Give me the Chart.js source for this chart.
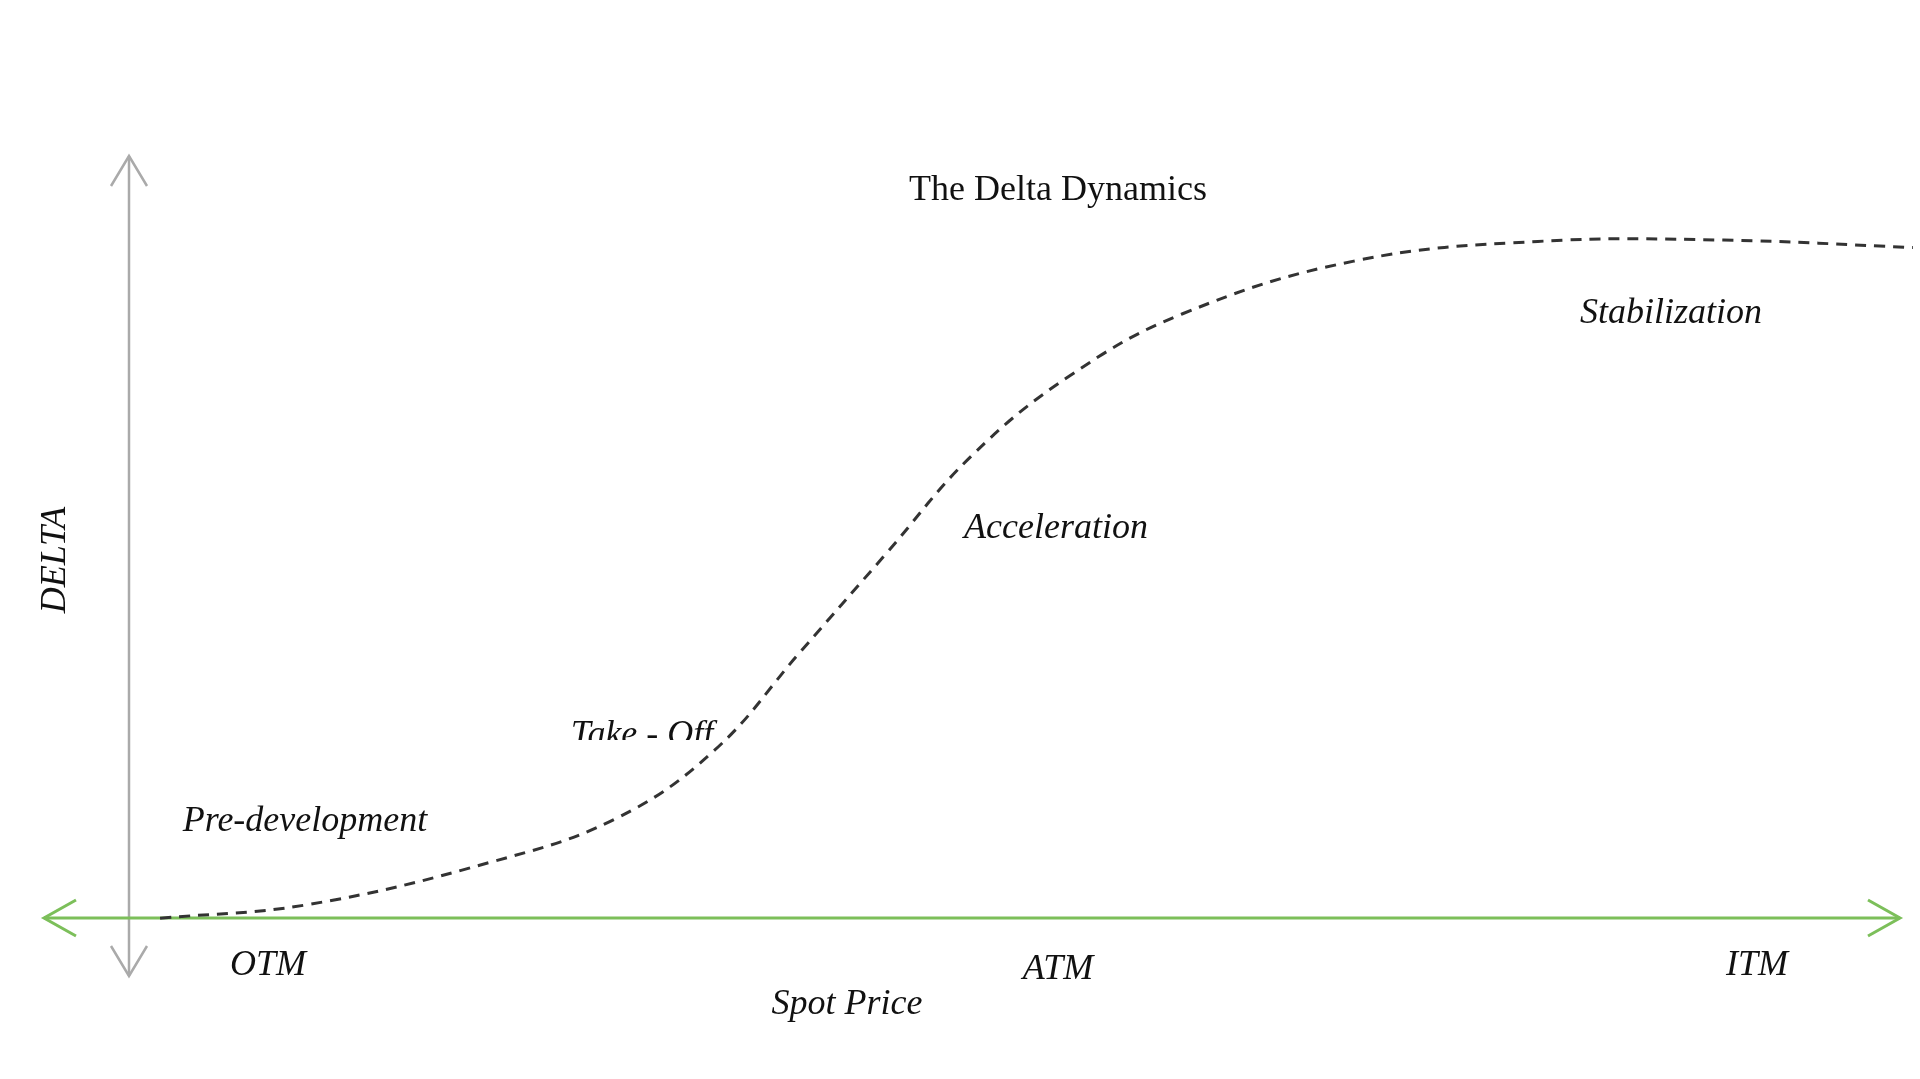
<!DOCTYPE html>
<html><head><meta charset="utf-8">
<script src="https://cdn.jsdelivr.net/npm/chart.js@4/dist/chart.umd.min.js"></script>
<style>html,body{margin:0;padding:0;background:#fff;overflow:hidden}#c{display:block}</style>
</head><body>
<div style="width:1920px;height:1079px"><canvas id="c"></canvas></div>
<script>
const spot = [0, 8.4, 18.9, 26.0, 31.6, 36.5, 41.4, 46.3, 51.9, 58.3, 68.1, 78.6, 89.2, 100];
const delta = [0, 0.02, 0.083, 0.147, 0.247, 0.392, 0.537, 0.682, 0.80, 0.891, 0.969, 0.998, 1.0, 0.989];
const title = "The Delta Dynamics";
const phases = ["Pre-development", "Take - Off", "Acceleration", "Stabilization"];
const moneyness = ["OTM", "ATM", "ITM"];

const deco = {
  id: 'deco',
  beforeDatasetsDraw(chart) {
    const c = chart.ctx;
    c.save();
    c.strokeStyle = '#aaa'; c.lineWidth = 2.5;
    c.beginPath(); c.moveTo(129, 156); c.lineTo(129, 976); c.stroke();
    c.beginPath(); c.moveTo(111, 186); c.lineTo(129, 156); c.lineTo(147, 186); c.stroke();
    c.beginPath(); c.moveTo(111, 946); c.lineTo(129, 976); c.lineTo(147, 946); c.stroke();
    c.strokeStyle = '#7cbf5a'; c.lineWidth = 3;
    c.beginPath(); c.moveTo(44, 918); c.lineTo(1900, 918); c.stroke();
    c.beginPath(); c.moveTo(76, 900); c.lineTo(44, 918); c.lineTo(76, 936); c.stroke();
    c.beginPath(); c.moveTo(1868, 900); c.lineTo(1900, 918); c.lineTo(1868, 936); c.stroke();
    c.restore();
  },
  afterDatasetsDraw(chart) {
    const c = chart.ctx;
    c.save();
    c.fillStyle = '#111'; c.textAlign = 'center'; c.textBaseline = 'middle';
    c.font = '36px "Liberation Serif"';
    c.fillText(title, 1058, 191);
    c.font = 'italic 36px "Liberation Serif"';
    c.fillText(phases[0], 305, 822);
    c.fillText(phases[2], 1056, 529);
    c.fillText(phases[3], 1671, 314);
    c.save(); c.beginPath(); c.rect(500, 700, 300, 40); c.clip();
    c.fillText(phases[1], 642, 736); c.restore();
    c.fillText(moneyness[0], 268, 966);
    c.fillText(moneyness[1], 1058, 970);
    c.fillText(moneyness[2], 1757, 966);
    c.fillText("Spot Price", 847, 1005);
    c.translate(56, 560); c.rotate(-Math.PI / 2);
    c.fillText("DELTA", 0, 0);
    c.restore();
  }
};

new Chart(document.getElementById('c'), {
  type: 'line',
  data: { datasets: [{
    data: spot.map((x, i) => ({ x, y: delta[i] })),
    borderColor: '#333', borderWidth: 3, borderDash: [11, 8],
    pointRadius: 0, tension: 0.4, fill: false
  }]},
  options: {
    responsive: true, maintainAspectRatio: false, animation: false,
    layout: { padding: 0 },
    plugins: { legend: { display: false }, tooltip: { enabled: false } },
    scales: {
      x: { type: 'linear', display: false, min: -9.13, max: 100.4 },
      y: { display: false, min: -0.237, max: 1.354 }
    }
  },
  plugins: [deco]
});
</script>
</body></html>
